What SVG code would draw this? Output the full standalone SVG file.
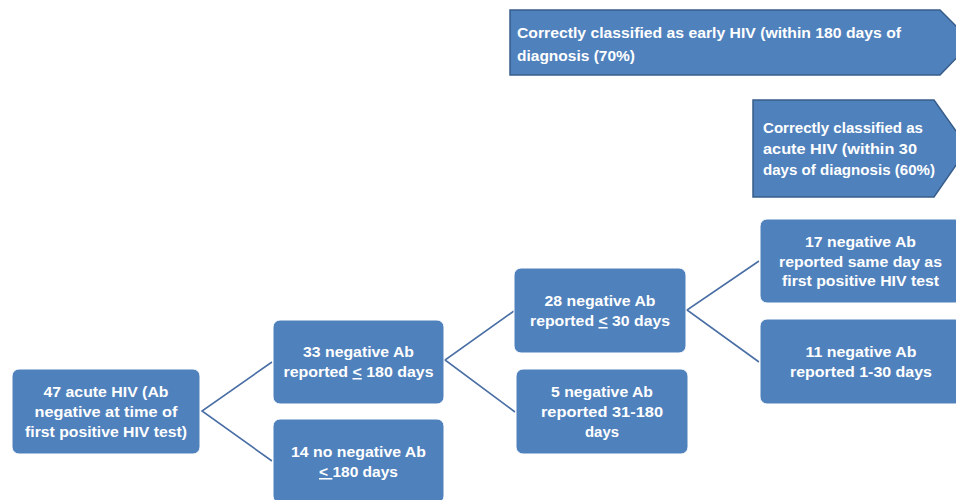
<svg xmlns="http://www.w3.org/2000/svg" width="956" height="500" viewBox="0 0 956 500">
<style>
.box{fill:#4f81bd;stroke:#ffffff;stroke-width:1}
.pent{fill:#4f81bd;stroke:#385d8a;stroke-width:1.5}
.t{font-family:"Liberation Sans",Arial,sans-serif;font-weight:bold;font-size:15.5px;fill:#ffffff}
.c{text-anchor:middle}
.conn{stroke:#4a6fa5;stroke-width:1.6;fill:none}
.u{text-decoration:underline}
</style>
<rect width="956" height="500" fill="#ffffff"/>
<g id="connectors">
<polyline class="conn" points="272,362 202,411 272,461"/>
<polyline class="conn" points="514,311 445,360 515,412"/>
<polyline class="conn" points="759,261 687,310 759,362"/>
</g>
<g id="early">
<polygon class="pent" points="510,10 940,10 972,42 940,75 510,75"/>
<text class="t" x="517" y="38" textLength="384" lengthAdjust="spacingAndGlyphs">Correctly classified as early HIV (within 180 days of</text>
<text class="t" x="517" y="61" textLength="118" lengthAdjust="spacingAndGlyphs">diagnosis (70%)</text>
</g>
<g id="acute">
<polygon class="pent" points="753,100 934,100 968,148 934,197 753,197"/>
<text class="t" x="763" y="133" textLength="160" lengthAdjust="spacingAndGlyphs">Correctly classified as</text>
<text class="t" x="763" y="154" textLength="154" lengthAdjust="spacingAndGlyphs">acute HIV (within 30</text>
<text class="t" x="763" y="175" textLength="172" lengthAdjust="spacingAndGlyphs">days of diagnosis (60%)</text>
</g>
<g id="n47">
<rect class="box" x="12" y="369" width="188" height="85" rx="7"/>
<text class="t c" x="106" y="397" textLength="125" lengthAdjust="spacingAndGlyphs">47 acute HIV (Ab</text>
<text class="t c" x="106" y="417" textLength="143" lengthAdjust="spacingAndGlyphs">negative at time of</text>
<text class="t c" x="106" y="437" textLength="162" lengthAdjust="spacingAndGlyphs">first positive HIV test)</text>
</g>
<g id="n33">
<rect class="box" x="273" y="320" width="171" height="84" rx="7"/>
<text class="t c" x="358.5" y="357" textLength="111" lengthAdjust="spacingAndGlyphs">33 negative Ab</text>
<text class="t c" x="358.5" y="377" textLength="150" lengthAdjust="spacingAndGlyphs">reported <tspan class="u">&lt;</tspan> 180 days</text>
</g>
<g id="n14">
<rect class="box" x="273" y="419" width="171" height="84" rx="7"/>
<text class="t c" x="358.5" y="457" textLength="135" lengthAdjust="spacingAndGlyphs">14 no negative Ab</text>
<text class="t c" x="358.5" y="477" textLength="79" lengthAdjust="spacingAndGlyphs"><tspan class="u">&lt; </tspan>180 days</text>
</g>
<g id="n28">
<rect class="box" x="514" y="268" width="172" height="85" rx="7"/>
<text class="t c" x="600" y="306" textLength="111" lengthAdjust="spacingAndGlyphs">28 negative Ab</text>
<text class="t c" x="600" y="326" textLength="140" lengthAdjust="spacingAndGlyphs">reported <tspan class="u">&lt;</tspan> 30 days</text>
</g>
<g id="n5">
<rect class="box" x="516" y="369" width="172" height="85" rx="7"/>
<text class="t c" x="602" y="397" textLength="102" lengthAdjust="spacingAndGlyphs">5 negative Ab</text>
<text class="t c" x="602" y="417" textLength="122" lengthAdjust="spacingAndGlyphs">reported 31-180</text>
<text class="t c" x="602" y="437" textLength="34" lengthAdjust="spacingAndGlyphs">days</text>
</g>
<g id="n17">
<rect class="box" x="760" y="219" width="202" height="84" rx="7"/>
<text class="t c" x="860.5" y="247" textLength="111" lengthAdjust="spacingAndGlyphs">17 negative Ab</text>
<text class="t c" x="860.5" y="267" textLength="163" lengthAdjust="spacingAndGlyphs">reported same day as</text>
<text class="t c" x="860.5" y="286" textLength="157" lengthAdjust="spacingAndGlyphs">first positive HIV test</text>
</g>
<g id="n11">
<rect class="box" x="760" y="319" width="202" height="85" rx="7"/>
<text class="t c" x="861" y="357" textLength="111" lengthAdjust="spacingAndGlyphs">11 negative Ab</text>
<text class="t c" x="861" y="377" textLength="142" lengthAdjust="spacingAndGlyphs">reported 1-30 days</text>
</g>
</svg>
